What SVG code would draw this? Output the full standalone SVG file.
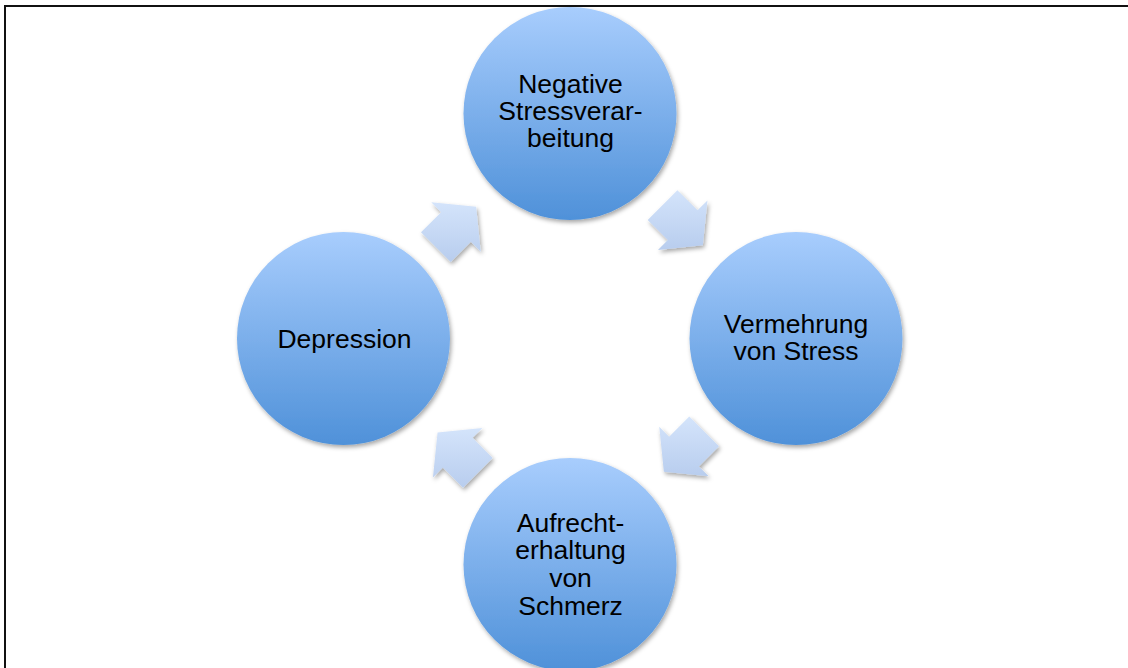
<svg xmlns="http://www.w3.org/2000/svg" width="1128" height="668" viewBox="0 0 1128 668">
  <defs>
    <linearGradient id="gCircle" x1="0" y1="0" x2="0" y2="1">
      <stop offset="0" stop-color="#a8cdfd"/>
      <stop offset="1" stop-color="#4f91d9"/>
    </linearGradient>
    <linearGradient id="gArrow" x1="0" y1="0" x2="0" y2="1">
      <stop offset="0" stop-color="#d4e4fb"/>
      <stop offset="1" stop-color="#b8cdee"/>
    </linearGradient>
    <filter id="shadow" x="-20%" y="-20%" width="140%" height="140%">
      <feDropShadow dx="1.5" dy="2.5" stdDeviation="2" flood-color="#000" flood-opacity="0.35"/>
    </filter>
  </defs>
  <style>
    .node { fill: url(#gCircle); filter: url(#shadow); }
    .arrow { fill: url(#gArrow); filter: url(#shadow); }
    .label { font-family: "Liberation Sans", Arial, sans-serif; font-size: 26.5px; fill: #000; text-anchor: middle; }
  </style>
  <rect width="1128" height="668" fill="#fff"/>
  <path d="M5,668 V6 H1128" fill="none" stroke="#111" stroke-width="2"/>

  <g id="connectors">
    <polygon class="arrow" points="421,232.3 441.15,212.15 431.25,202.25 476.15,206.85 480.75,251.75 470.85,241.85 450.7,262"/>
    <polygon class="arrow" points="677.4,190.2 697.55,210.35 707.45,200.45 702.85,245.35 657.95,249.95 667.85,240.05 647.7,219.9"/>
    <polygon class="arrow" points="719,446.3 698.85,466.45 708.75,476.35 663.85,471.75 659.25,426.85 669.15,436.75 689.3,416.6"/>
    <polygon class="arrow" points="463,487.7 442.85,467.55 432.95,477.45 437.55,432.55 482.45,427.95 472.55,437.85 492.7,458"/>
  </g>

  <g id="node-negative">
    <circle class="node" cx="570" cy="113.5" r="106.5"/>
    <text class="label" x="570.5" y="93">Negative</text>
    <text class="label" x="570.5" y="120">Stressverar-</text>
    <text class="label" x="570.5" y="147">beitung</text>
  </g>
  <g id="node-vermehrung">
    <circle class="node" cx="796" cy="338.5" r="106.5"/>
    <text class="label" x="796" y="333">Vermehrung</text>
    <text class="label" x="796" y="360">von Stress</text>
  </g>
  <g id="node-aufrechterhaltung">
    <circle class="node" cx="570" cy="564.5" r="106.5"/>
    <text class="label" x="570.5" y="532">Aufrecht-</text>
    <text class="label" x="570.5" y="559">erhaltung</text>
    <text class="label" x="570.5" y="587">von</text>
    <text class="label" x="570.5" y="615">Schmerz</text>
  </g>
  <g id="node-depression">
    <circle class="node" cx="343.5" cy="338.5" r="106.5"/>
    <text class="label" x="344.5" y="348">Depression</text>
  </g>
</svg>
